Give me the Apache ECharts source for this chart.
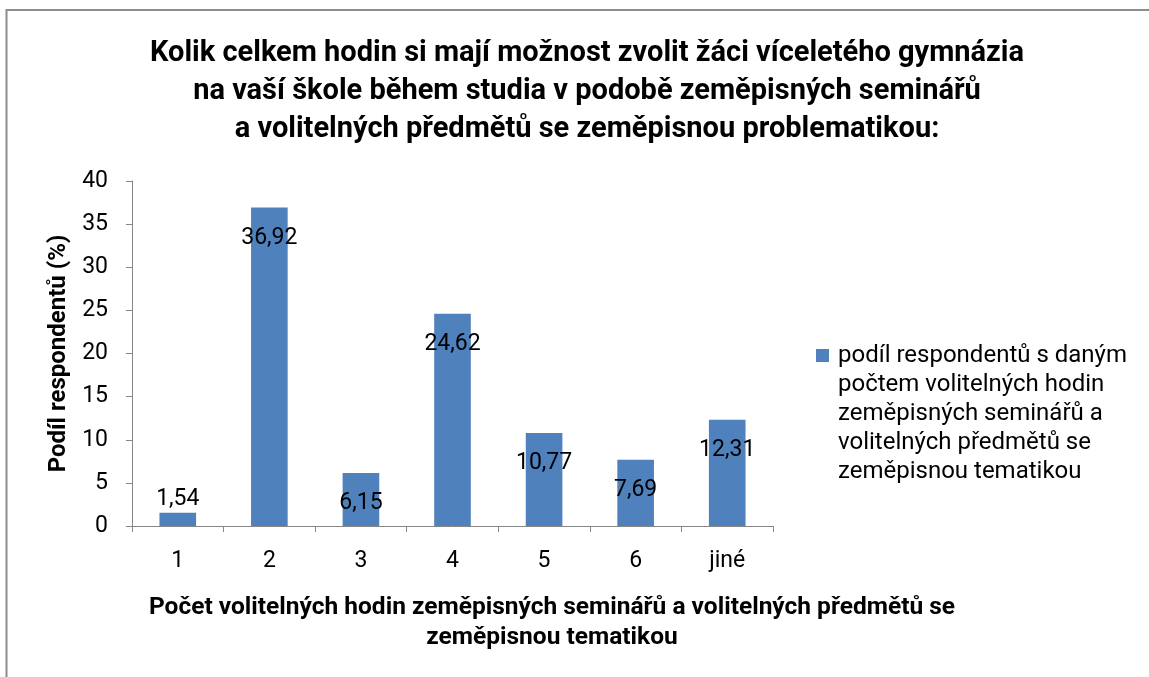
<!DOCTYPE html>
<html>
<head>
<meta charset="utf-8">
<title>Volitelné hodiny zeměpisu</title>
<script src="https://cdn.jsdelivr.net/npm/echarts@6/dist/echarts.min.js"></script>
<style>
  html, body { margin: 0; padding: 0; background: #fff; }
  #chart { width: 1149px; height: 677px; }
</style>
</head>
<body>
<div id="chart"></div>
<script>
// data
const categories = ['1', '2', '3', '4', '5', '6', 'jiné']
const shares = [1.54, 36.92, 6.15, 24.62, 10.77, 7.69, 12.31]
const seriesName = 'podíl respondentů s daným\npočtem volitelných hodin\nzeměpisných seminářů a\nvolitelných předmětů se\nzeměpisnou tematikou'

const fontFamily = 'Roboto, "Liberation Sans", sans-serif'
const axisGray = '#868686'

const chart = echarts.init(document.getElementById('chart'))

// legend marker: small square at the first text line, tall invisible box so
// the multi-line text starts at the square instead of being centred on it
const legendIcon = 'path://M0,8h13v13h-13z M0,0h0.01v0.01h-0.01z M17,145h0.01v0.01h-0.01z'

const option = {
  backgroundColor: '#fff',
  animation: false,
  textStyle: { fontFamily: fontFamily },
  title: [
    {
      text: 'Kolik celkem hodin si mají možnost zvolit žáci víceletého gymnázia\nna vaší škole během studia v podobě zeměpisných seminářů\na volitelných předmětů se zeměpisnou problematikou:',
      left: 582,
      top: 30,
      textAlign: 'center',
      textStyle: {
        fontFamily: fontFamily,
        fontSize: 29,
        fontWeight: 'bold',
        lineHeight: 38,
        color: '#000'
      }
    },
    {
      // x axis name, centred under the whole chart like in the original
      text: 'Počet volitelných hodin zeměpisných seminářů a volitelných předmětů se\nzeměpisnou tematikou',
      left: 547,
      top: 588,
      textAlign: 'center',
      textStyle: {
        fontFamily: fontFamily,
        fontSize: 24.5,
        fontWeight: 'bold',
        lineHeight: 30,
        color: '#000'
      }
    }
  ],
  legend: {
    left: 816,
    top: 341,
    padding: 0,
    icon: legendIcon,
    itemWidth: 17,
    itemHeight: 145,
    itemGap: 0,
    textStyle: {
      fontFamily: fontFamily,
      fontSize: 24,
      lineHeight: 29,
      color: '#000'
    },
    data: [seriesName]
  },
  grid: {
    left: 132,
    right: 376,
    top: 181,
    bottom: 151,
    containLabel: false
  },
  xAxis: {
    type: 'category',
    data: categories,
    axisLine: { lineStyle: { color: axisGray, width: 1 } },
    axisTick: { show: true, length: 6, lineStyle: { color: axisGray } },
    axisLabel: {
      color: '#000',
      fontSize: 23,
      margin: 24
    }
  },
  yAxis: {
    type: 'value',
    min: 0,
    max: 40,
    interval: 5,
    name: 'Podíl respondentů (%)',
    nameLocation: 'middle',
    nameGap: 60,
    nameRotate: 90,
    nameTextStyle: {
      color: '#000',
      fontSize: 24,
      fontWeight: 'bold'
    },
    axisLine: { show: true, lineStyle: { color: axisGray, width: 1 } },
    axisTick: { show: true, length: 6, lineStyle: { color: axisGray } },
    splitLine: { show: false },
    axisLabel: {
      color: '#000',
      fontSize: 23,
      margin: 24
    }
  },
  series: [
    {
      name: seriesName,
      type: 'bar',
      barWidth: '40%',
      itemStyle: { color: '#4F81BD' },
      data: shares.map(v => ({
        value: v,
        // the smallest bar has its label above it, the rest sit inside the top
        label: v < 3 ? { position: 'top', distance: 2 } : { position: 'insideTop', distance: 19 }
      })),
      label: {
        show: true,
        color: '#000',
        fontSize: 23,
        formatter: p => String(p.value).replace('.', ',')
      }
    }
  ],
  graphic: [
    {
      // chart border, only the top and left edges are visible
      type: 'polyline',
      silent: true,
      shape: { points: [[6.5, 677], [6.5, 10], [1149, 10]] },
      style: { stroke: '#8c8c8c', lineWidth: 2, fill: null }
    }
  ]
}

chart.setOption(option)
</script>
</body>
</html>
